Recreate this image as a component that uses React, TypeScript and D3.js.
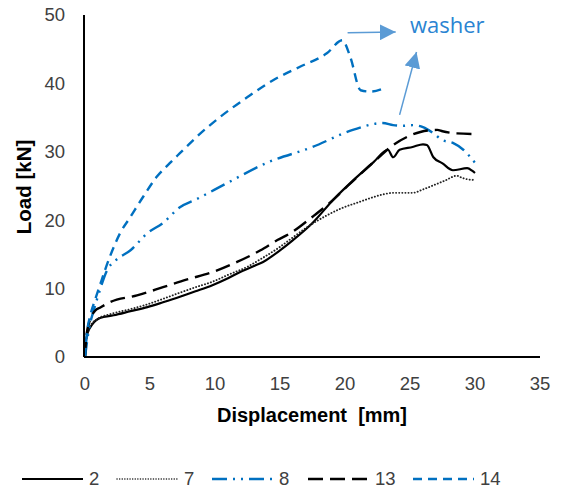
import React from 'react';
import * as d3 from 'd3';

// load–displacement curves
const s2x = [0, 0.05, 0.2, 0.5, 1.15, 2.2, 3.5, 4.8, 6, 7.3, 8.5, 9.8, 11, 11.9, 13, 13.7, 15, 16, 17.5, 19.1, 20.9, 22.2, 23.3, 23.7, 24.2, 25.2, 26, 26.3, 26.8, 27.5, 28.3, 29.4, 29.8, 30];
const s2y = [0, 2, 3.5, 4.6, 5.7, 6.1, 6.7, 7.3, 8, 8.8, 9.6, 10.5, 11.5, 12.4, 13.3, 13.9, 15.6, 17.1, 19.6, 23, 26.3, 28.5, 30.3, 29.2, 30.3, 30.7, 31.1, 31, 29.2, 28.3, 27.3, 27.6, 27.2, 26.9];

const s7x = [0, 0.1, 0.4, 1, 2, 3.5, 4.8, 6, 7.3, 8.5, 9.8, 11, 12.5, 13.5, 15, 16, 17.5, 18.5, 19.8, 21, 21.9, 23, 23.7, 25.2, 26, 26.8, 27.7, 28.6, 29, 29.8, 30];
const s7y = [0, 2.5, 4.5, 5.6, 6.3, 7, 7.7, 8.5, 9.4, 10.2, 11, 12, 13.2, 14.3, 16.1, 17.5, 19.5, 20.6, 21.8, 22.6, 23.2, 23.8, 24, 24, 24.5, 25.1, 25.8, 26.5, 26.2, 25.9, 26];

const s8x = [0, 0.3, 0.7, 1.1, 1.7, 2.4, 3.5, 4.8, 6, 7.3, 8.5, 10.9, 14, 17.5, 20.6, 22.9, 23.7, 24.5, 25.2, 26, 26.8, 27.5, 28.3, 29.1, 30];
const s8y = [0, 4, 7, 9.5, 12.7, 14.2, 15.6, 18.1, 19.6, 21.9, 23, 25.4, 28.4, 30.7, 33.2, 34.2, 33.9, 33.8, 33.9, 33.6, 32.7, 31.7, 31.3, 30.3, 28.4];

const s13x = [0, 0.1, 0.4, 0.8, 1.15, 1.9, 4, 6, 7.8, 9.8, 11.7, 13.5, 14.8, 15.8, 17.5, 18.8, 20.2, 21.5, 22.5, 23.5, 24.8, 25.8, 27.1, 27.5, 28.6, 30];
const s13y = [0, 3, 5.5, 6.8, 7.2, 8, 9, 10.2, 11.3, 12.4, 13.9, 15.6, 17.1, 18.1, 20.5, 22.5, 25, 27.3, 29, 30.7, 32.2, 32.9, 33.2, 33, 32.7, 32.6];

const s14x = [0, 0.15, 0.4, 0.8, 1.2, 1.9, 2.7, 3.5, 4.5, 5.5, 6.5, 7.3, 8.6, 10.4, 12.5, 14.5, 16.5, 18.6, 19.8, 20.4, 21.2, 22, 22.9];
const s14y = [0, 3.5, 6, 8.5, 10.8, 14.6, 18.1, 20.5, 23.5, 26.3, 28.3, 29.8, 32.2, 35.1, 38, 40.5, 42.4, 44.4, 46.3, 43.9, 39, 38.8, 39.2];

const seriesNames = ['2', '7', '8', '13', '14'];
const xTicks = [0, 5, 10, 15, 20, 25, 30, 35];
const yTicks = [0, 10, 20, 30, 40, 50];

const BLUE = '#0070c0';
const styles = [
  { color: '#000', width: 2.2, dash: null },
  { color: '#222', width: 1.9, dash: '0.1,3' },
  { color: BLUE, width: 2.4, dash: '15,6,2,6,2,6' },
  { color: '#000', width: 2.4, dash: '15,7' },
  { color: BLUE, width: 2.4, dash: '9,6' },
];

const W = 564;
const H = 493;
const tickFont = '"Liberation Sans", Arial, sans-serif';

export default function App() {
  const x = d3.scaleLinear().domain([0, 35]).range([85, 540]);
  const y = d3.scaleLinear().domain([0, 50]).range([357, 15]);

  const data = [
    d3.zip(s2x, s2y),
    d3.zip(s7x, s7y),
    d3.zip(s8x, s8y),
    d3.zip(s13x, s13y),
    d3.zip(s14x, s14y),
  ];

  const line = d3.line<number[]>()
    .x(d => x(d[0]))
    .y(d => y(d[1]))
    .curve(d3.curveMonotoneX);

  // annotation arrows, in data units
  const arrows = [
    [[20.2, 47.4], [23.9, 47.5]],
    [[24.2, 35.4], [25.5, 44.6]],
  ];

  const legendX = [22, 117, 212, 308, 413];

  return (
    <svg width={W} height={H} style={{ position: 'absolute', left: 0, top: 0, background: '#fff' }}>
      <defs>
        <marker id="head" markerUnits="userSpaceOnUse" markerWidth="18" markerHeight="16"
          refX="16" refY="8" orient="auto">
          <path d="M0,0 L16,8 L0,16 Z" fill="#5b9bd5" />
        </marker>
      </defs>

      {data.map((d, i) => (
        <path key={i} d={line(d) || ''} fill="none" stroke={styles[i].color}
          strokeWidth={styles[i].width} strokeDasharray={styles[i].dash || undefined}
          strokeLinecap={i === 1 ? 'round' : 'butt'} strokeLinejoin="round" />
      ))}

      <line x1={x(0) - 1} x2={x(0) - 1} y1={y(50)} y2={y(0)} stroke="#000" strokeWidth={2} />
      <line x1={x(0) - 1} x2={x(35)} y1={y(0)} y2={y(0)} stroke="#000" strokeWidth={2} />

      {yTicks.map(t => (
        <text key={t} x={65} y={y(t)} dy="0.35em" textAnchor="end" fontFamily={tickFont}
          fontSize={18.5} fill="#404040">{t}</text>
      ))}
      {xTicks.map(t => (
        <text key={t} x={x(t)} y={390} textAnchor="middle" fontFamily={tickFont}
          fontSize={18.5} fill="#404040">{t}</text>
      ))}

      <text x={312} y={422} textAnchor="middle" fontFamily={tickFont} fontWeight="bold"
        fontSize={20} fill="#000" style={{ whiteSpace: 'pre' }}>{'Displacement  [mm]'}</text>
      <text transform="translate(31,187) rotate(-90)" textAnchor="middle" fontFamily={tickFont}
        fontWeight="bold" fontSize={20.5} fill="#000">Load [kN]</text>

      {arrows.map((a, i) => (
        <line key={i} x1={x(a[0][0])} y1={y(a[0][1])} x2={x(a[1][0])} y2={y(a[1][1])}
          stroke="#5b9bd5" strokeWidth={1.5} markerEnd="url(#head)" />
      ))}
      <text x={x(25)} y={y(47.4)} fontFamily='"Open Sans", sans-serif' fontSize={22}
        fill="#2a84d2">washer</text>

      {seriesNames.map((n, i) => (
        <g key={n} transform={`translate(${legendX[i]},479)`}>
          <line x1={0} x2={61} y1={0} y2={0} stroke={styles[i].color}
            strokeWidth={i === 1 ? 1.5 : styles[i].width}
            strokeDasharray={i === 1 ? '0.1,2.5' : styles[i].dash || undefined}
            strokeLinecap={i === 1 ? 'round' : 'butt'} />
          <text x={67} y={0} dy="0.35em" fontFamily={tickFont} fontSize={18.5} fill="#404040">{n}</text>
        </g>
      ))}
    </svg>
  );
}
